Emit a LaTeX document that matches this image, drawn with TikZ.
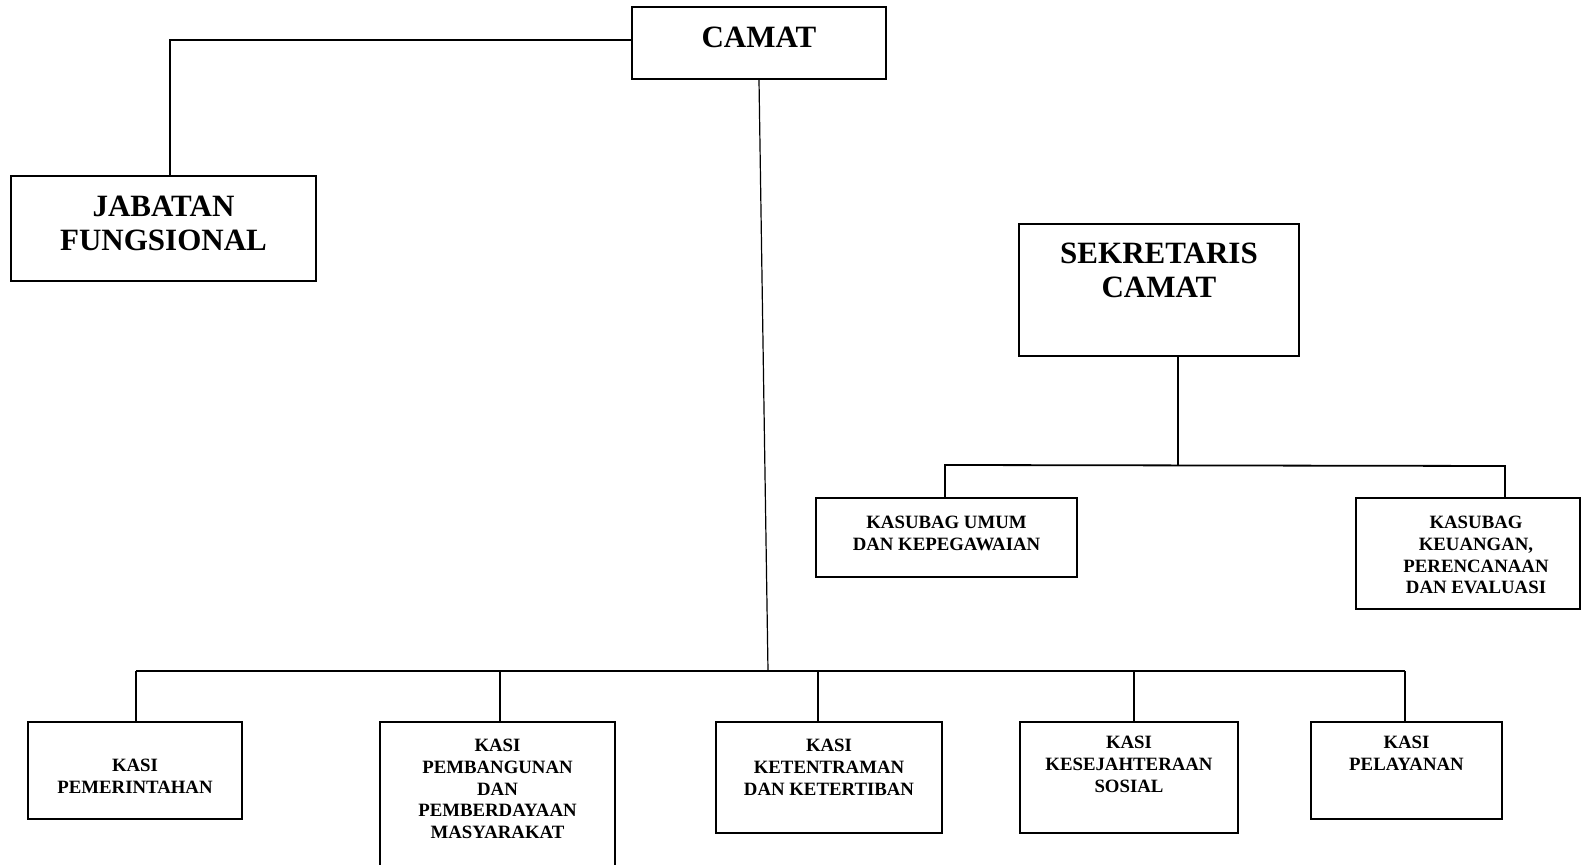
\documentclass[tikz,border=0pt]{standalone}
\usepackage{fontspec}
\setmainfont{Liberation Serif}
\usetikzlibrary{positioning,fit}

\begin{document}
\begin{tikzpicture}[x=0.5pt,y=-0.5pt,
 box/.style={draw,line width=0.9pt,inner sep=0pt},
 big/.style={inner sep=0pt,align=center,font=\bfseries\fontsize{15.5}{17}\selectfont},
 small/.style={inner sep=0pt,align=center,font=\bfseries\fontsize{9.4}{10.8}\selectfont},
 garis/.style={line width=0.9pt}]
\useasboundingbox (0,0) rectangle (1581,865);
% boxes
\node[box,fit={(632,7)(886,79)}](camat){};
\node[box,fit={(11,176)(316,281)}](jf){};
\node[box,fit={(1019,224)(1299,356)}](sek){};
\node[box,fit={(816,498)(1077,577)}](kum){};
\node[box,fit={(1356,498)(1580,609)}](kkeu){};
\node[box,fit={(28,722)(242,819)}](kpem){};
\node[box,fit={(380,722)(615,880)}](kpmb){};
\node[box,fit={(716,722)(942,833)}](kket){};
\node[box,fit={(1020,722)(1238,833)}](kkes){};
\node[box,fit={(1311,722)(1502,819)}](kpel){};
% texts
\node[big,below=10pt of camat.north](camattxt){CAMAT};
\node[big,below=10.5pt of jf.north](jftxt){JABATAN\\FUNGSIONAL};
\node[big,below=9.5pt of sek.north](sektxt){SEKRETARIS\\CAMAT};
\node[small,below=9.5pt of kum.north](kumtxt){KASUBAG UMUM\\DAN KEPEGAWAIAN};
\node[small,below=9.5pt of kkeu.north,xshift=4pt](kkeutxt){KASUBAG\\KEUANGAN,\\PERENCANAAN\\DAN EVALUASI};
\node[small,below=19pt of kpem.north](kpemtxt){KASI\\PEMERINTAHAN};
\node[small,below=9pt of kpmb.north](kpmbtxt){KASI\\PEMBANGUNAN\\DAN\\PEMBERDAYAAN\\MASYARAKAT};
\node[small,below=9pt of kket.north](kkettxt){KASI\\KETENTRAMAN\\DAN KETERTIBAN};
\node[small,below=7.5pt of kkes.north](kkestxt){KASI\\KESEJAHTERAAN\\SOSIAL};
\node[small,below=7.5pt of kpel.north](kpeltxt){KASI\\PELAYANAN};
% lines
\coordinate (jfc) at (170,176);
\draw[garis] ([yshift=1.5pt]camat.west) -| (jfc);
\coordinate (sekbus) at (1178,465);
\coordinate (ku) at (945,465);
\coordinate (kk) at (1505,466);
\draw[garis] (sek.south -| sekbus) -- (sekbus);
\draw[garis] (ku |- kum.north) -- (ku) -- (kk) -- (kk |- kkeu.north);
\coordinate (kbus) at (768,671);
\draw[line width=0.6pt] (camat.south) -- (kbus);
\foreach \x/\n in {136/kpem,500/kpmb,818/kket,1134/kkes,1405/kpel}{
  \coordinate (d\n) at (\x,671);
  \draw[garis] (d\n) -- (d\n |- \n.north);
}
\draw[garis] (dkpem) -- (dkpel);
\end{tikzpicture}
\end{document}
